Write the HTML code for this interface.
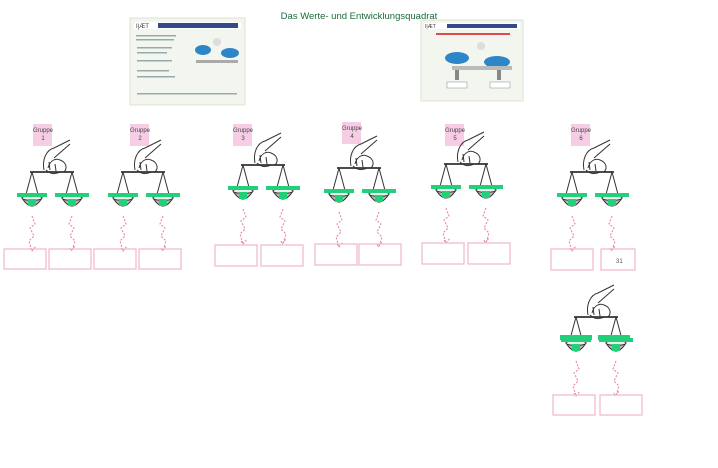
<!DOCTYPE html>
<html><head><style>
body{margin:0;background:#fff;width:718px;height:463px;overflow:hidden;font-family:"Liberation Sans",sans-serif}
</style></head><body>
<svg width="718" height="463" viewBox="0 0 718 463" xmlns="http://www.w3.org/2000/svg" font-family="Liberation Sans, sans-serif">
<defs>
<g id="sc" fill="none" stroke="#333" stroke-width="1">
 <path d="M-8 -2 C-10 -12 -6 -22 2 -24 L18 -32 M-4 -4 C-2 -12 4 -14 8 -12 C14 -10 16 -4 12 0 M2 -14 L18 -28 M-6 -2 Q0 4 8 0 M-3 -10 L-2 -2 M3 -8 L4 -1"/>
 <path d="M-22 0 L22 0" stroke-width="1.8"/>
 <path d="M-20 0 L-27 26 M-20 0 L-13 26 M20 0 L13 26 M20 0 L27 26"/>
 <path d="M-30 26 Q-20 42 -10 26 Z M10 26 Q20 42 30 26 Z" fill="#bbb" stroke="#333"/>
 <ellipse cx="-20" cy="26" rx="10" ry="2.5" fill="#eee"/><ellipse cx="20" cy="26" rx="10" ry="2.5" fill="#eee"/>
 <rect x="-35" y="21" width="30" height="4" fill="#22d07a" stroke="none"/>
 <rect x="3" y="21" width="34" height="4" fill="#22d07a" stroke="none"/>
 <rect x="-24" y="27" width="8" height="7" fill="#22d07a" stroke="none"/>
 <rect x="16" y="27" width="8" height="7" fill="#22d07a" stroke="none"/>
 <path d="M-20 44 l3 8 -5 4 4 8 -5 5 3 10 M-22 76 l2 3 4 -5 M20 44 l-3 8 5 4 -4 8 5 5 -3 10 M18 76 l1 3 4 -5" stroke="#e58aa4" stroke-width="1.1" stroke-dasharray="2 1.5"/>
</g>
<g id="note"><rect width="19" height="22" fill="#f7cde6"/></g>
</defs>
<text x="359" y="19" font-size="9.5" fill="#1a6b3a" text-anchor="middle">Das Werte- und Entwicklungsquadrat</text>
<rect x="130" y="18" width="115" height="87" fill="#f3f5ef" stroke="#dde3d0"/>
<rect x="134" y="22" width="107" height="7" fill="#fff"/><rect x="158" y="23" width="80" height="5" fill="#334a8a"/>
<text x="136" y="28" font-size="6" fill="#334">I|ÆT</text>
<g fill="#9aa" ><rect x="136" y="35" width="40" height="1.5"/><rect x="136" y="39" width="38" height="1.5"/><rect x="137" y="47" width="35" height="1.5"/><rect x="137" y="52" width="30" height="1.5"/><rect x="137" y="60" width="35" height="1.5"/><rect x="137" y="70" width="32" height="1.5"/><rect x="137" y="76" width="38" height="1.5"/><rect x="137" y="93" width="100" height="1.5"/></g>
<ellipse cx="203" cy="50" rx="8" ry="5" fill="#2c86c8"/><ellipse cx="230" cy="53" rx="9" ry="5" fill="#2c86c8"/>
<rect x="196" y="60" width="42" height="3" fill="#aaa"/><circle cx="217" cy="42" r="4" fill="#ddd"/>
<rect x="421" y="20" width="102" height="81" fill="#f3f5ef" stroke="#dde3d0"/>
<rect x="424" y="23" width="96" height="6" fill="#fff"/><rect x="447" y="24" width="70" height="4" fill="#334a8a"/>
<text x="425" y="28" font-size="5" fill="#334">I|ÆT</text>
<rect x="436" y="33" width="74" height="2" fill="#e24a4a"/>
<ellipse cx="457" cy="58" rx="12" ry="6" fill="#2c86c8"/><ellipse cx="497" cy="62" rx="13" ry="6" fill="#2c86c8"/>
<circle cx="481" cy="46" r="4" fill="#ddd"/><rect x="452" y="66" width="60" height="4" fill="#bbb"/>
<rect x="455" y="70" width="4" height="10" fill="#888"/><rect x="497" y="70" width="4" height="10" fill="#888"/>
<rect x="447" y="82" width="20" height="6" fill="#fff" stroke="#888" stroke-width=".5"/><rect x="490" y="82" width="20" height="6" fill="#fff" stroke="#888" stroke-width=".5"/>
<g font-size="6" fill="#444" text-anchor="middle">
<use href="#note" x="33" y="124"/><text x="43" y="132">Gruppe</text><text x="43" y="140">1</text>
<use href="#note" x="130" y="124"/><text x="140" y="132">Gruppe</text><text x="140" y="140">2</text>
<use href="#note" x="233" y="124"/><text x="243" y="132">Gruppe</text><text x="243" y="140">3</text>
<use href="#note" x="342" y="122"/><text x="352" y="130">Gruppe</text><text x="352" y="138">4</text>
<use href="#note" x="445" y="124"/><text x="455" y="132">Gruppe</text><text x="455" y="140">5</text>
<use href="#note" x="571" y="124"/><text x="581" y="132">Gruppe</text><text x="581" y="140">6</text>
</g>
<use href="#sc" x="52" y="172"/><use href="#sc" x="143" y="172"/>
<use href="#sc" x="263" y="165"/><use href="#sc" x="359" y="168"/>
<use href="#sc" x="466" y="164"/><use href="#sc" x="592" y="172"/>
<use href="#sc" x="596" y="317"/>
<rect x="560" y="335" width="32" height="5" fill="#22d07a"/><rect x="598" y="335" width="32" height="5" fill="#22d07a"/>
<g fill="none" stroke="#f0bccb" stroke-width="1.3">
<rect x="4" y="249" width="42" height="20"/><rect x="49" y="249" width="42" height="20"/>
<rect x="94" y="249" width="42" height="20"/><rect x="139" y="249" width="42" height="20"/>
<rect x="215" y="245" width="42" height="21"/><rect x="261" y="245" width="42" height="21"/>
<rect x="315" y="244" width="42" height="21"/><rect x="359" y="244" width="42" height="21"/>
<rect x="422" y="243" width="42" height="21"/><rect x="468" y="243" width="42" height="21"/>
<rect x="551" y="249" width="42" height="21"/><rect x="601" y="249" width="34" height="21"/>
<rect x="553" y="395" width="42" height="20"/><rect x="600" y="395" width="42" height="20"/>
</g>
<text x="616" y="263" font-size="6" fill="#555">31</text>
</svg>
</body></html>
